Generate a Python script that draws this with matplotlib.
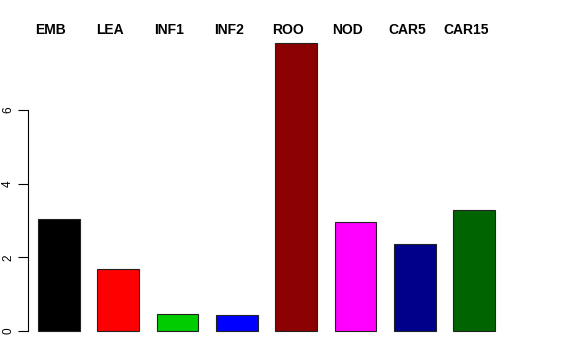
import matplotlib
matplotlib.use("Agg")
from matplotlib import pyplot as plt
from matplotlib import transforms

tissues = ["EMB", "LEA", "INF1", "INF2", "ROO", "NOD", "CAR5", "CAR15"]
values = [3.04, 1.68, 0.46, 0.43, 7.82, 2.96, 2.36, 3.29]
colors = ["black", "red", "#00CD00", "blue", "#8B0000", "magenta", "#00008B", "#006400"]
yticks = [0, 2, 4, 6]

plt.rcParams['font.family'] = ['Liberation Sans', 'DejaVu Sans']

fig = plt.figure(figsize=(5.76, 3.6), dpi=100)
ax = fig.add_axes([28/576, 17.5/360, 477/576, 311/360])

pos = list(range(len(tissues)))
ax.bar(pos, values, width=0.7, color=colors, edgecolor="#222222", linewidth=0.8)

ax.set_xlim(-0.52, 7.52)
ax.set_ylim(-0.31, 8.13)

for s in ["top", "right", "bottom"]:
    ax.spines[s].set_visible(False)
ax.spines["left"].set_bounds(0, 6)
ax.spines["left"].set_linewidth(0.8)
ax.set_xticks([])
ax.set_yticks(yticks)
ax.set_yticklabels([str(t) for t in yticks], rotation=90, va="center", fontsize=8.5)
ax.tick_params(axis="y", length=7, width=0.8, pad=3)

# labels sit a bit left of bar centres, up in the top margin
off = transforms.offset_copy(ax.transData, fig=fig, x=-8, y=0, units="dots")
lab_tr = transforms.blended_transform_factory(off, fig.transFigure)
for p, name in zip(pos, tissues):
    ax.text(p, 1 - 30/360, name, transform=lab_tr, ha="center", va="center",
            fontsize=10, fontweight="bold", clip_on=False)

fig.savefig("out.png", dpi=100)
